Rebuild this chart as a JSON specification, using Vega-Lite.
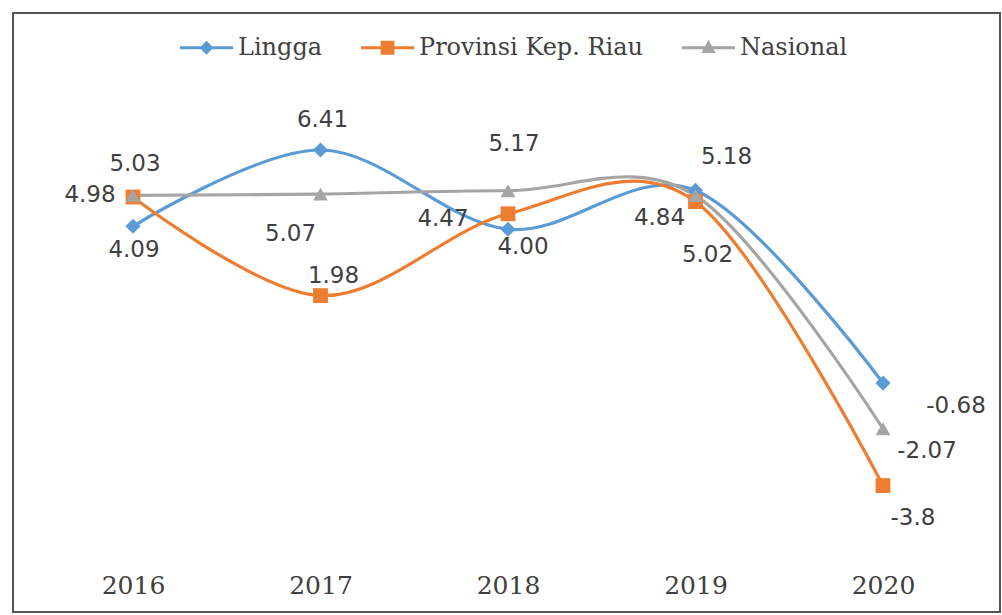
{
  "$schema": "https://vega.github.io/schema/vega-lite/v6.json",
  "width": 1002,
  "height": 615,
  "autosize": {"type": "fit", "contains": "padding"},
  "padding": {"left": 13, "top": 13, "right": 2, "bottom": 3},
  "background": "white",
  "config": {
    "view": {"stroke": "#555555", "strokeWidth": 2},
    "locale": {"number": {"decimal": ".", "thousands": ",", "grouping": [3], "currency": ["$", ""], "minus": "-"}}
  },
  "data": {
    "values": [
      {"series": "Lingga", "year": 2016, "value": 4.09},
      {"series": "Lingga", "year": 2017, "value": 6.41},
      {"series": "Lingga", "year": 2018, "value": 4.00},
      {"series": "Lingga", "year": 2019, "value": 5.18},
      {"series": "Lingga", "year": 2020, "value": -0.68},
      {"series": "Provinsi Kep. Riau", "year": 2016, "value": 4.98},
      {"series": "Provinsi Kep. Riau", "year": 2017, "value": 1.98},
      {"series": "Provinsi Kep. Riau", "year": 2018, "value": 4.47},
      {"series": "Provinsi Kep. Riau", "year": 2019, "value": 4.84},
      {"series": "Provinsi Kep. Riau", "year": 2020, "value": -3.8},
      {"series": "Nasional", "year": 2016, "value": 5.03},
      {"series": "Nasional", "year": 2017, "value": 5.07},
      {"series": "Nasional", "year": 2018, "value": 5.17},
      {"series": "Nasional", "year": 2019, "value": 5.02},
      {"series": "Nasional", "year": 2020, "value": -2.07}
    ]
  },
  "encoding": {
    "x": {
      "field": "year", "type": "quantitative",
      "scale": {"domain": [2015.36, 2020.624], "nice": false, "zero": false},
      "axis": {"values": [2016, 2017, 2018, 2019, 2020], "format": "d", "title": null, "domain": false, "ticks": false, "grid": false, "labelPadding": 0, "offset": -39, "labelFont": "DejaVu Serif", "labelFontSize": 25, "labelColor": "#404040", "labelFlush": false, "labelOverlap": false}
    },
    "y": {
      "field": "value", "type": "quantitative",
      "scale": {"domain": [-7.645, 10.578], "nice": false, "zero": false},
      "axis": null
    }
  },
  "layer": [
    {
      "mark": {"type": "line", "interpolate": "cardinal", "strokeWidth": 3.2},
      "encoding": {
        "color": {
          "field": "series", "type": "nominal",
          "scale": {"domain": ["Lingga", "Provinsi Kep. Riau", "Nasional"], "range": ["#5B9BD5", "#ED7D31", "#A5A5A5"]},
          "legend": {
            "orient": "none", "legendX": 167, "legendY": 8, "direction": "horizontal", "title": null, "padding": 0,
            "symbolSize": 2809, "labelOffset": 5, "columnPadding": 38, "labelLimit": 500,
            "labelFont": "DejaVu Serif", "labelFontSize": 24, "labelColor": "#404040",
            "symbolType": "M-1,-0.06H1V0.06H-1Z",
            "encode": {
              "symbols": {
                "update": {
                  "shape": {"signal": "datum.value === 'Lingga' ? 'M-1,-0.06H1V0.06H-1Z M0,-0.26L0.26,0L0,0.26L-0.26,0Z' : datum.value === 'Nasional' ? 'M-1,-0.06H1V0.06H-1Z M0,-0.3L0.27,0.2L-0.27,0.2Z' : 'M-1,-0.06H1V0.06H-1Z M-0.26,-0.26H0.26V0.26H-0.26Z'"},
                  "fill": {"signal": "datum.value === 'Lingga' ? '#5B9BD5' : datum.value === 'Nasional' ? '#A5A5A5' : '#ED7D31'"},
                  "stroke": {"value": "transparent"},
                  "strokeWidth": {"value": 0},
                  "opacity": {"value": 1},
                  "fillOpacity": {"value": 1}
                }
              }
            }
          }
        }
      }
    },
    {
      "transform": [{"filter": "datum.series === 'Lingga'"}],
      "mark": {"type": "point", "shape": "diamond", "filled": true, "opacity": 1, "strokeWidth": 0, "size": 230},
      "encoding": {"color": {"field": "series", "type": "nominal"}}
    },
    {
      "transform": [{"filter": "datum.series === 'Provinsi Kep. Riau'"}],
      "mark": {"type": "point", "shape": "square", "filled": true, "opacity": 1, "strokeWidth": 0, "size": 220},
      "encoding": {"color": {"field": "series", "type": "nominal"}}
    },
    {
      "transform": [{"filter": "datum.series === 'Nasional'"}],
      "mark": {"type": "point", "shape": "triangle-up", "filled": true, "opacity": 1, "strokeWidth": 0, "size": 220},
      "encoding": {"color": {"field": "series", "type": "nominal"}}
    },
    {"transform": [{"filter": "datum.series === 'Lingga' && datum.year === 2016"}], "mark": {"type": "text", "dx": 1, "dy": 24, "font": "DejaVu Sans", "fontSize": 23, "fill": "#404040"}, "encoding": {"text": {"field": "value", "type": "quantitative", "format": ".2f"}}},
    {"transform": [{"filter": "datum.series === 'Lingga' && datum.year === 2017"}], "mark": {"type": "text", "dx": 2, "dy": -30, "font": "DejaVu Sans", "fontSize": 23, "fill": "#404040"}, "encoding": {"text": {"field": "value", "type": "quantitative", "format": ".2f"}}},
    {"transform": [{"filter": "datum.series === 'Lingga' && datum.year === 2018"}], "mark": {"type": "text", "dx": 15, "dy": 18, "font": "DejaVu Sans", "fontSize": 23, "fill": "#404040"}, "encoding": {"text": {"field": "value", "type": "quantitative", "format": ".2f"}}},
    {"transform": [{"filter": "datum.series === 'Lingga' && datum.year === 2019"}], "mark": {"type": "text", "dx": 31, "dy": -33, "font": "DejaVu Sans", "fontSize": 23, "fill": "#404040"}, "encoding": {"text": {"field": "value", "type": "quantitative", "format": ".2f"}}},
    {"transform": [{"filter": "datum.series === 'Lingga' && datum.year === 2020"}], "mark": {"type": "text", "dx": 73, "dy": 23, "font": "DejaVu Sans", "fontSize": 23, "fill": "#404040"}, "encoding": {"text": {"field": "value", "type": "quantitative", "format": ".2f"}}},
    {"transform": [{"filter": "datum.series === 'Provinsi Kep. Riau' && datum.year === 2016"}], "mark": {"type": "text", "dx": -43, "dy": -2, "font": "DejaVu Sans", "fontSize": 23, "fill": "#404040"}, "encoding": {"text": {"field": "value", "type": "quantitative", "format": ".2f"}}},
    {"transform": [{"filter": "datum.series === 'Provinsi Kep. Riau' && datum.year === 2017"}], "mark": {"type": "text", "dx": 13, "dy": -20, "font": "DejaVu Sans", "fontSize": 23, "fill": "#404040"}, "encoding": {"text": {"field": "value", "type": "quantitative", "format": ".2f"}}},
    {"transform": [{"filter": "datum.series === 'Provinsi Kep. Riau' && datum.year === 2018"}], "mark": {"type": "text", "dx": -65, "dy": 5, "font": "DejaVu Sans", "fontSize": 23, "fill": "#404040"}, "encoding": {"text": {"field": "value", "type": "quantitative", "format": ".2f"}}},
    {"transform": [{"filter": "datum.series === 'Provinsi Kep. Riau' && datum.year === 2019"}], "mark": {"type": "text", "dx": -36, "dy": 16, "font": "DejaVu Sans", "fontSize": 23, "fill": "#404040"}, "encoding": {"text": {"field": "value", "type": "quantitative", "format": ".2f"}}},
    {"transform": [{"filter": "datum.series === 'Provinsi Kep. Riau' && datum.year === 2020"}], "mark": {"type": "text", "dx": 30, "dy": 32, "font": "DejaVu Sans", "fontSize": 23, "fill": "#404040"}, "encoding": {"text": {"field": "value", "type": "quantitative", "format": ".1f"}}},
    {"transform": [{"filter": "datum.series === 'Nasional' && datum.year === 2016"}], "mark": {"type": "text", "dx": 2, "dy": -31, "font": "DejaVu Sans", "fontSize": 23, "fill": "#404040"}, "encoding": {"text": {"field": "value", "type": "quantitative", "format": ".2f"}}},
    {"transform": [{"filter": "datum.series === 'Nasional' && datum.year === 2017"}], "mark": {"type": "text", "dx": -30, "dy": 40, "font": "DejaVu Sans", "fontSize": 23, "fill": "#404040"}, "encoding": {"text": {"field": "value", "type": "quantitative", "format": ".2f"}}},
    {"transform": [{"filter": "datum.series === 'Nasional' && datum.year === 2018"}], "mark": {"type": "text", "dx": 6, "dy": -47, "font": "DejaVu Sans", "fontSize": 23, "fill": "#404040"}, "encoding": {"text": {"field": "value", "type": "quantitative", "format": ".2f"}}},
    {"transform": [{"filter": "datum.series === 'Nasional' && datum.year === 2019"}], "mark": {"type": "text", "dx": 12, "dy": 59, "font": "DejaVu Sans", "fontSize": 23, "fill": "#404040"}, "encoding": {"text": {"field": "value", "type": "quantitative", "format": ".2f"}}},
    {"transform": [{"filter": "datum.series === 'Nasional' && datum.year === 2020"}], "mark": {"type": "text", "dx": 44, "dy": 22, "font": "DejaVu Sans", "fontSize": 23, "fill": "#404040"}, "encoding": {"text": {"field": "value", "type": "quantitative", "format": ".2f"}}}
  ]
}
